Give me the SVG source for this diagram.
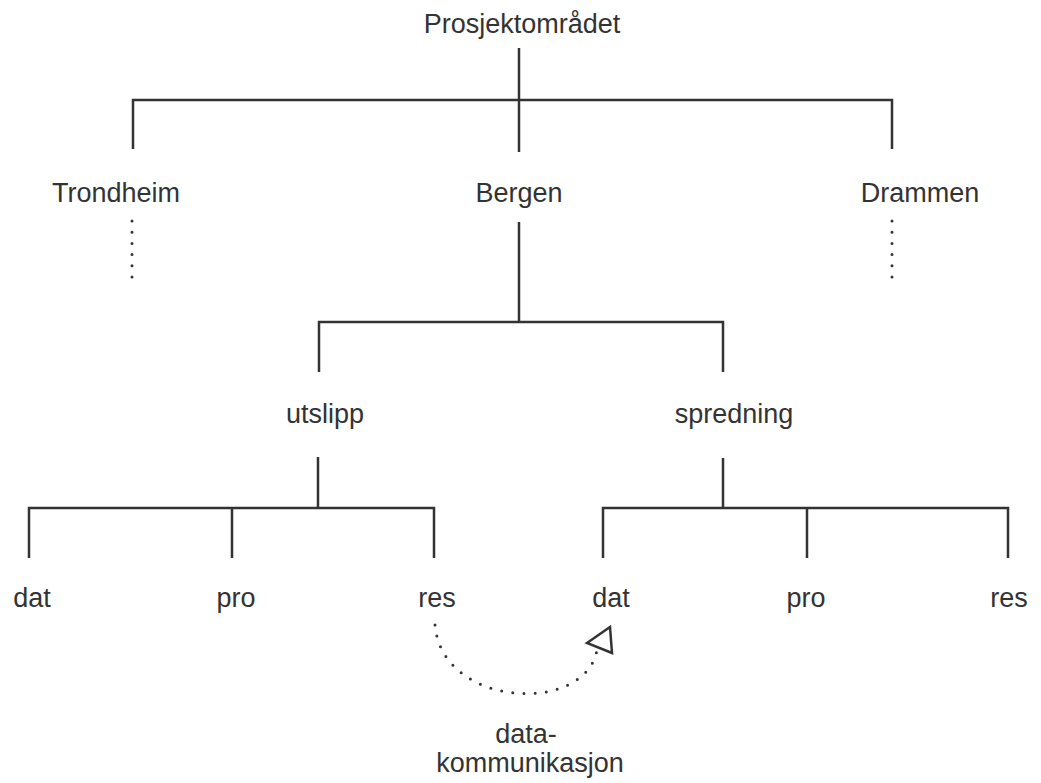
<svg xmlns="http://www.w3.org/2000/svg" width="1041" height="783" viewBox="0 0 1041 783">
<style>
.t{font-family:"Liberation Sans",Arial,sans-serif;font-size:27px;fill:#333;text-anchor:middle}
.l{stroke:#333;stroke-width:2.5;fill:none}
.d{stroke:#333;stroke-width:3;fill:none;stroke-linecap:round;stroke-dasharray:0 11.2}
</style>
<rect width="1041" height="783" fill="#fff"/>
<g id="connectors">
<path class="l" d="M519,48V152M133,149V100H892V149"/>
<path class="d" d="M132,221V288M892,221V288"/>
<path class="l" d="M519,222V322M319,372V322H723V372"/>
<path class="l" d="M318,457V508M29,558V508H434V558M232,508V558"/>
<path class="l" d="M723,458V508M603,558V508H1008V558M807,508V558"/>
<path class="d" d="M435,625C442,708 585,715 597,650"/>
<polygon class="l" points="587,643 610,627 612,653"/>
</g>
<g id="prosjekt"><text class="t" x="522" y="33">Prosjektområdet</text></g>
<g id="trondheim"><text class="t" x="116" y="202">Trondheim</text></g>
<g id="bergen"><text class="t" x="519" y="202">Bergen</text></g>
<g id="drammen"><text class="t" x="920" y="202">Drammen</text></g>
<g id="utslipp"><text class="t" x="325" y="423">utslipp</text></g>
<g id="spredning"><text class="t" x="734" y="423">spredning</text></g>
<g id="u-dat"><text class="t" x="32" y="607">dat</text></g>
<g id="u-pro"><text class="t" x="236" y="607">pro</text></g>
<g id="u-res"><text class="t" x="437" y="607">res</text></g>
<g id="s-dat"><text class="t" x="611" y="607">dat</text></g>
<g id="s-pro"><text class="t" x="806" y="607">pro</text></g>
<g id="s-res"><text class="t" x="1009" y="607">res</text></g>
<g id="datakomm"><text class="t" x="526" y="743">data-</text><text class="t" x="530" y="772">kommunikasjon</text></g>
</svg>
